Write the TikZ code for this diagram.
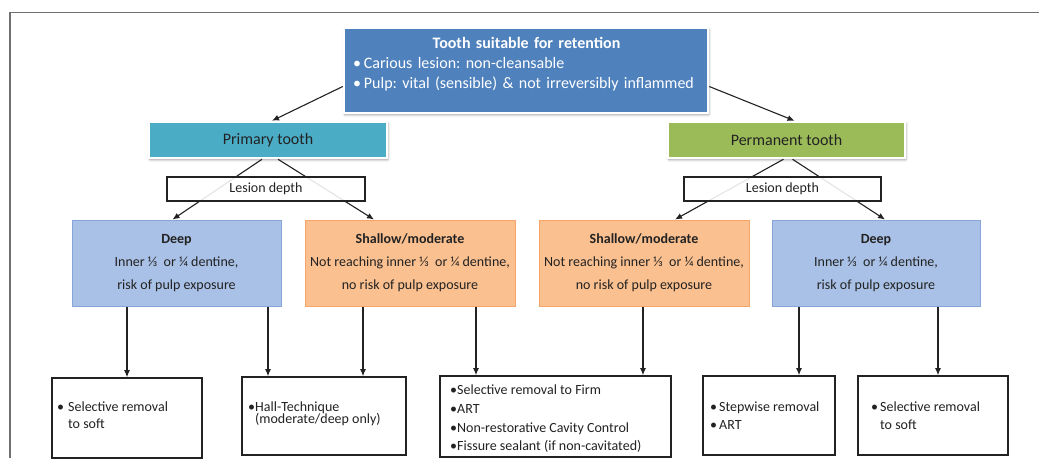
\documentclass[tikz,border=0pt]{standalone}
\usepackage{fontspec}
\setmainfont{Carlito}
\frenchspacing
\usetikzlibrary{arrows.meta,shadows.blur}

\definecolor{headblue}{HTML}{4F81BD}
\definecolor{primteal}{HTML}{4BACC6}
\definecolor{permgreen}{HTML}{9BBB59}
\definecolor{deepfill}{HTML}{A9C1E6}
\definecolor{deepline}{HTML}{86A6DA}
\definecolor{shalfill}{HTML}{FAC090}
\definecolor{shalline}{HTML}{F6A56A}
\definecolor{ink}{HTML}{222222}
\definecolor{framegray}{HTML}{707070}

\tikzset{
  box/.style={rectangle, inner sep=0pt},
  headbox/.style={box, fill=#1, draw=white, line width=2.5pt,
    blur shadow={shadow xshift=0.8pt, shadow yshift=-1.5pt,
                 shadow blur radius=2.5pt, shadow opacity=45}},
  depthbox/.style={box, draw=ink, line width=1.4pt, fill=white,
    fill opacity=0.88, text opacity=1, text=ink,
    font=\fontsize{14}{16}\selectfont},
  deepbox/.style={box, fill=deepfill, draw=deepline, line width=1pt},
  shalbox/.style={box, fill=shalfill, draw=shalline, line width=1pt},
  levelbox/.style={align=center, text=ink, font=\fontsize{14}{23}\selectfont},
  endbox/.style={box, draw=ink, line width=1.6pt, fill=white},
  endtext/.style={align=left, anchor=west, inner sep=0pt, text=ink},
  conn/.style={draw=ink, line width=1.1pt, -{Latex[length=7pt,width=6pt]}},
}

\begin{document}
\begin{tikzpicture}[x=1pt, y=-1pt]
\useasboundingbox (0,0) rectangle (1039,458);

% outer frame (open to the right and bottom)
\draw[framegray, line width=1.6pt] (10,458) -- (10,12.5) -- (1039,12.5);

% column positions of the vertical connectors
\coordinate (x1) at (127,0);
\coordinate (x2) at (268,0);
\coordinate (x3) at (363,0);
\coordinate (x4) at (476,0);
\coordinate (x5) at (643,0);
\coordinate (x6) at (799,0);
\coordinate (x7) at (938,0);

% top box
\node[headbox=headblue, minimum width=364pt, minimum height=85pt] (top) at (526,70.5) {};
\node[text width=347pt, align=left, inner sep=0pt, text=white,
      font=\fontsize{16}{20}\selectfont] (toptext) at (526.5,64) {%
  \hfil\textbf{Tooth suitable for retention}\hfil\\
  •\hspace{3pt}Carious lesion: non-cleansable\\
  •\hspace{3pt}Pulp: vital (sensible) \& not irreversibly inflammed};

% tooth type
\node[headbox=primteal, minimum width=238pt, minimum height=36pt, text=ink,
      font=\fontsize{16}{18}\selectfont] (prim) at (268,140) {Primary tooth};
\node[headbox=permgreen, minimum width=237pt, minimum height=36pt, text=ink,
      font=\fontsize{16}{18}\selectfont] (perm) at (786.5,140) {Permanent tooth};

\draw[conn] ([yshift=-16pt]top.west) -- ([xshift=4pt]prim.north);
\draw[conn] ([yshift=-16pt]top.east) -- ([xshift=8pt]perm.north);

% lesion level boxes
\node[deepbox, minimum width=209pt, minimum height=86pt] (deepL) at (176.5,263) {};
\node[shalbox, minimum width=210pt, minimum height=86pt] (shalL) at (410,263) {};
\node[shalbox, minimum width=210pt, minimum height=86pt] (shalR) at (644,263) {};
\node[deepbox, minimum width=208pt, minimum height=86pt] (deepR) at (876,263) {};

\node[levelbox] (deepLt) at (176.5,263) {\textbf{Deep}\\Inner ⅓\ \ or ¼ dentine,\\risk of pulp exposure};
\node[levelbox] (shalLt) at (410,263) {\textbf{Shallow/moderate}\\Not reaching inner ⅓\ \ or ¼ dentine,\\no risk of pulp exposure};
\node[levelbox] (shalRt) at (644,263) {\textbf{Shallow/moderate}\\Not reaching inner ⅓\ \ or ¼ dentine,\\no risk of pulp exposure};
\node[levelbox] (deepRt) at (876,263) {\textbf{Deep}\\Inner ⅓\ \ or ¼ dentine,\\risk of pulp exposure};

% diagonal split, passing behind the lesion depth labels
\draw[conn] ([xshift=-6pt]prim.south) -- ([xshift=-4pt]deepL.north);
\draw[conn] ([xshift=10pt]prim.south) -- ([xshift=-36pt]shalL.north);
\draw[conn] ([xshift=-3pt]perm.south) -- ([xshift=31pt]shalR.north);
\draw[conn] ([xshift=6pt]perm.south) -- ([xshift=9pt]deepR.north);

\node[depthbox, minimum width=198pt, minimum height=24pt] (lesL) at (266,189) {Lesion depth};
\node[depthbox, minimum width=197pt, minimum height=24pt] (lesR) at (782.5,189) {Lesion depth};

% treatment boxes
\node[endbox, minimum width=150pt, minimum height=80pt] (b1) at (127,418) {};
\node[endbox, minimum width=164pt, minimum height=78pt] (b2) at (324,416) {};
\node[endbox, minimum width=231pt, minimum height=81pt] (b3) at (555.5,416.5) {};
\node[endbox, minimum width=132pt, minimum height=79pt] (b4) at (769,415.5) {};
\node[endbox, minimum width=150pt, minimum height=79pt] (b5) at (933,415.5) {};

\node[endtext, font=\fontsize{14}{17}\selectfont] (b1t) at (57,415.5)
  {•\hspace{4pt}Selective removal\\\hphantom{•\hspace{4pt}}to soft};
\node[endtext, font=\fontsize{14}{12.5}\selectfont] (b2t) at (248,414)
  {•Hall-Technique\\\hphantom{•}(moderate/deep only)};
\node[endtext, font=\fontsize{14}{18.7}\selectfont] (b3t) at (450,419)
  {•Selective removal to Firm\\•ART\\•Non-restorative Cavity Control\\•Fissure sealant (if non-cavitated)};
\node[endtext, font=\fontsize{14}{18}\selectfont] (b4t) at (710,416)
  {•\hspace{2pt}Stepwise removal\\•\hspace{2pt}ART};
\node[endtext, font=\fontsize{14}{18}\selectfont] (b5t) at (871,416)
  {•\hspace{2pt}Selective removal\\\hphantom{•\hspace{2pt}}to soft};

% vertical connectors
\draw[conn] (deepL.south -| x1) -- (b1.north -| x1);
\draw[conn] (deepL.south -| x2) -- (b2.north -| x2);
\draw[conn] (shalL.south -| x3) -- (b2.north -| x3);
\draw[conn] (shalL.south -| x4) -- (b3.north -| x4);
\draw[conn] (shalR.south -| x5) -- (b3.north -| x5);
\draw[conn] (deepR.south -| x6) -- (b4.north -| x6);
\draw[conn] (deepR.south -| x7) -- (b5.north -| x7);
\end{tikzpicture}
\end{document}
